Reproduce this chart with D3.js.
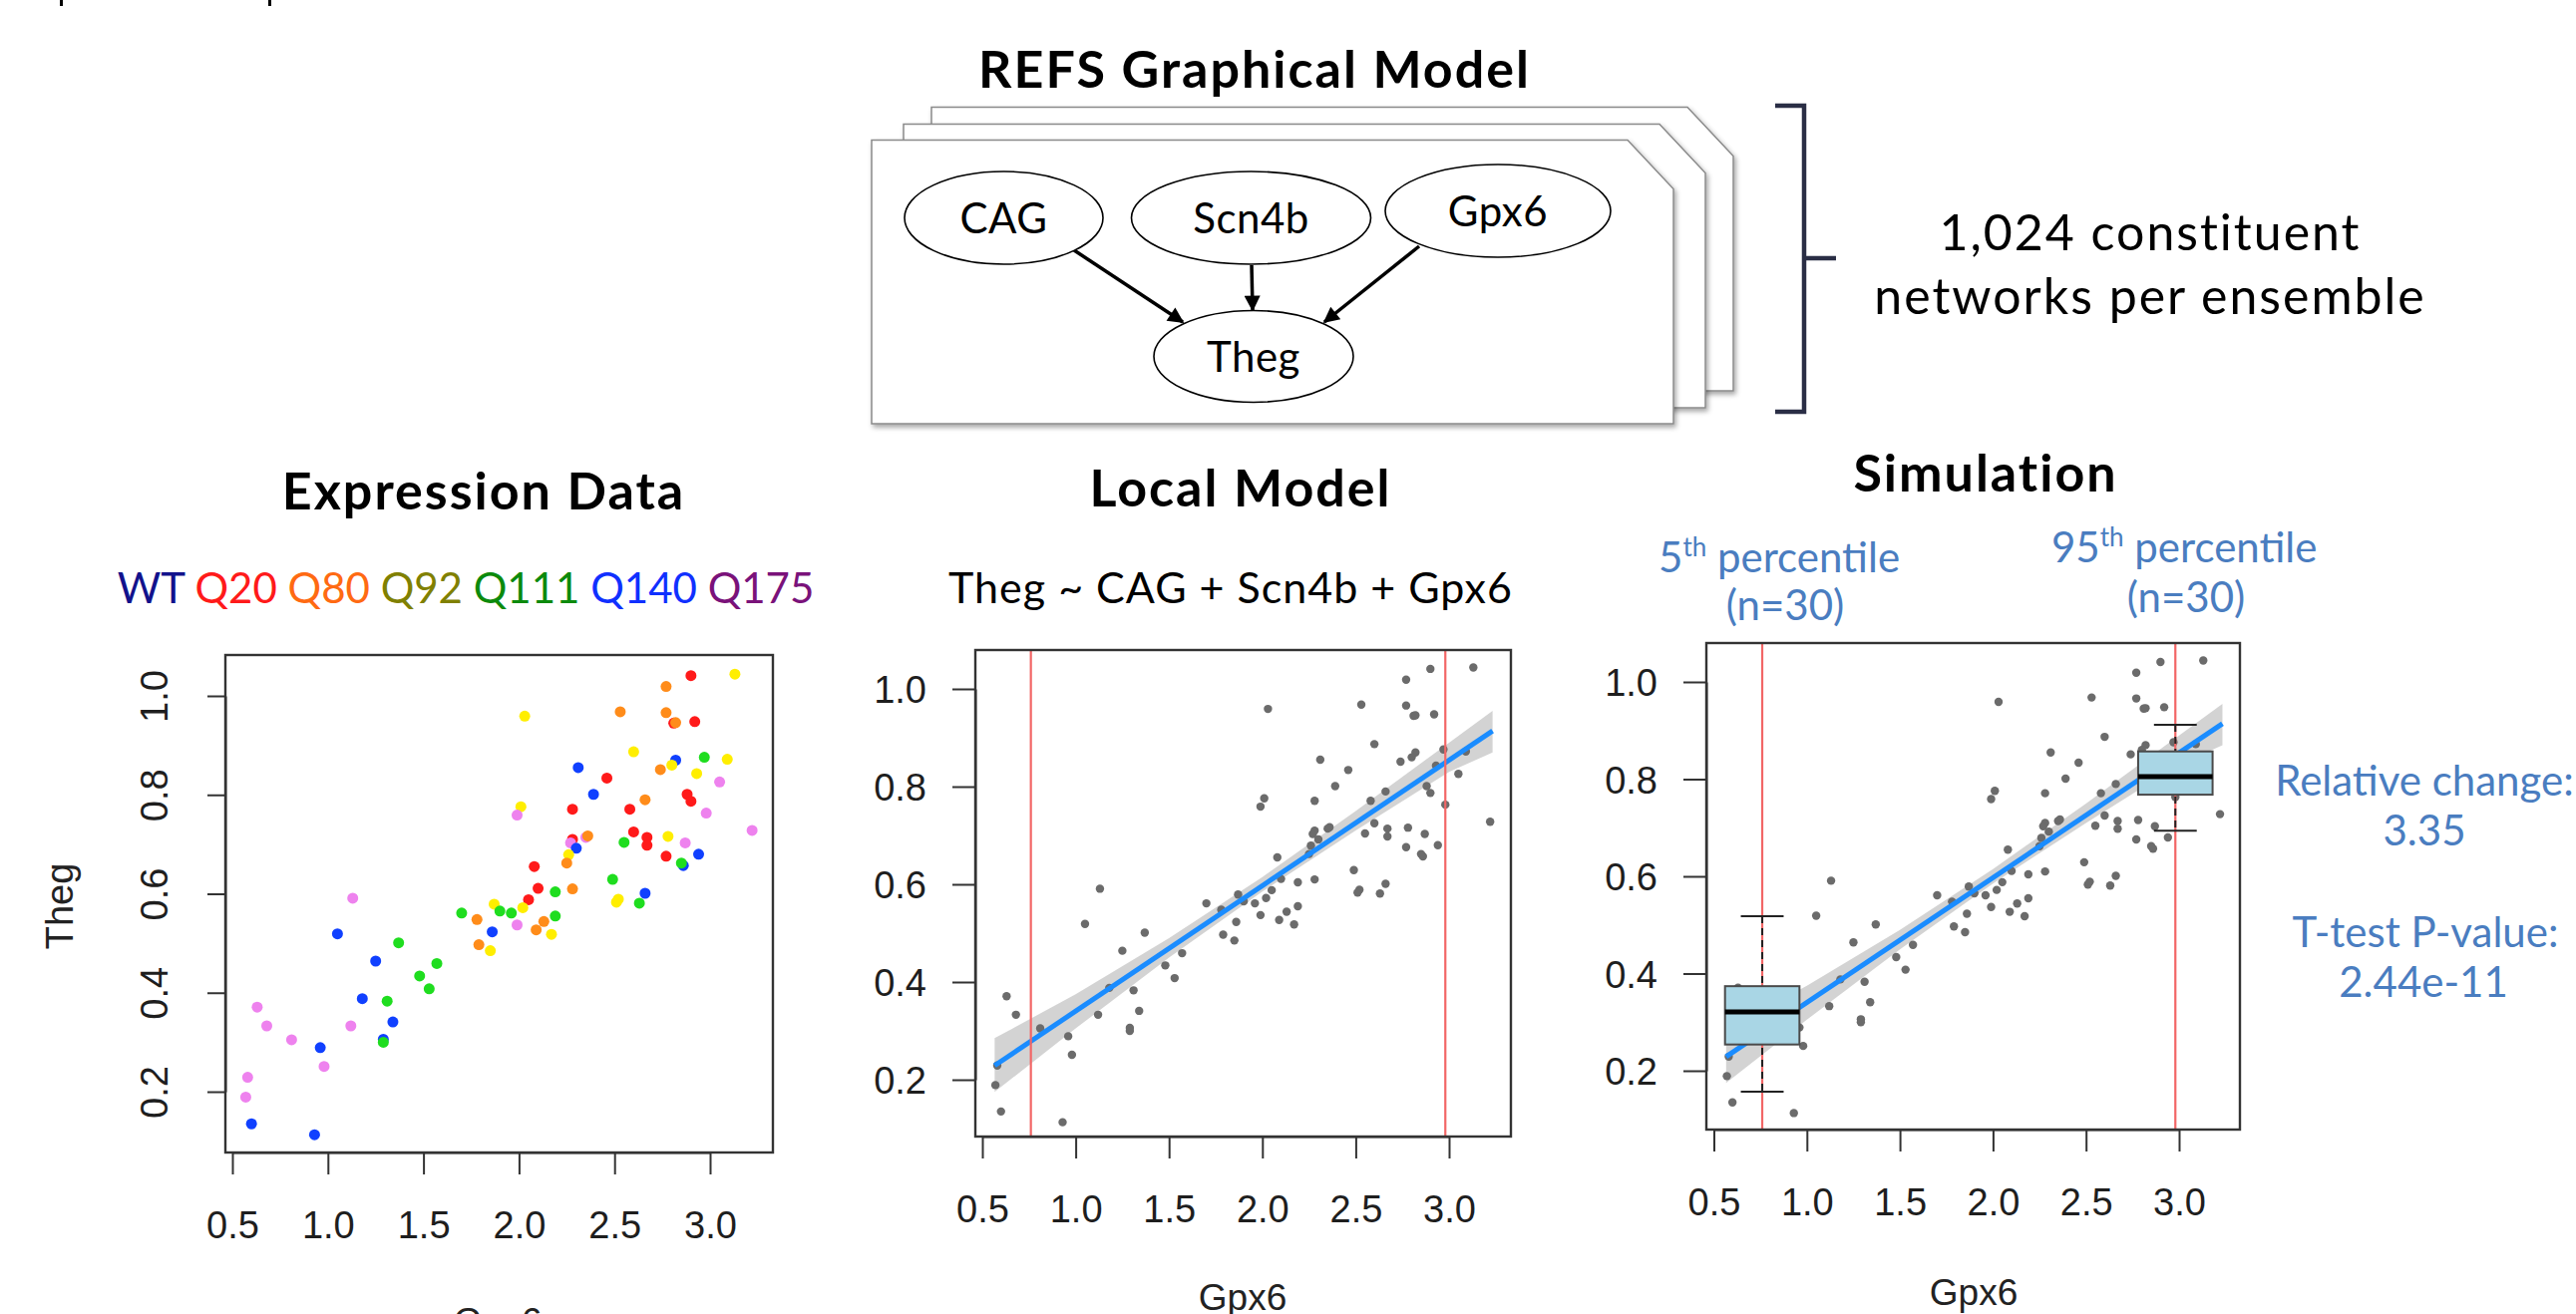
<!DOCTYPE html>
<html>
<head>
<meta charset="utf-8">
<script src="https://cdn.jsdelivr.net/npm/d3@7"></script>
<style>
  html, body { margin: 0; padding: 0; background: #fff; }
  svg { display: block; }
</style>
</head>
<body>
<div id="chart"></div>
<script>
// REFS figure: expression scatter, local model fit, simulation with percentile boxes

// ---- data ----
const genotypes    = ['WT', 'Q20', 'Q80', 'Q92', 'Q111', 'Q140', 'Q175'];
const legendColors = ['#12128c', '#ff1a1a', '#ff6a12', '#808000', '#0c8a0c', '#1030ff', '#7a127a'];
const dotColors    = ['#0a0a9a', '#ff1a1a', '#ff8c1a', '#ffee00', '#1fdd1f', '#1040ff', '#ee82ee'];

const gpx6 = [3.13, 2.90, 2.77, 2.53, 2.03, 2.77, 2.81, 2.82, 2.92, 2.60,
              2.97, 3.09, 2.82, 2.80, 2.74, 2.31, 2.93, 2.46, 3.05, 2.39,
              2.88, 2.90, 2.66, 2.28, 2.58, 2.01, 1.99, 2.98, 3.22, 2.60,
              2.67, 2.67, 2.78, 2.87, 2.55, 2.77, 2.28, 2.35, 2.27, 2.30,
              2.26, 2.25, 2.94, 2.86, 2.85, 2.08, 2.49, 2.28, 2.10, 2.19,
              2.66, 2.05, 2.02, 2.52, 2.51, 2.63, 1.87, 1.90, 1.96, 1.70,
              1.78, 2.19, 1.99, 2.13, 2.09, 2.17, 1.86, 1.79, 1.85, 1.13,
              1.05, 1.37, 1.25, 1.57, 1.48, 1.53, 1.18, 1.31, 1.34, 1.29,
              1.29, 1.12, 0.96, 0.98, 0.81, 0.68, 0.63, 0.58, 0.57, 0.60,
              0.93, 2.36];
const theg = [1.044, 1.041, 1.019, 0.968, 0.959, 0.966, 0.945, 0.946, 0.948, 0.887,
              0.876, 0.872, 0.870, 0.860, 0.851, 0.855, 0.843, 0.834, 0.826, 0.801,
              0.801, 0.787, 0.790, 0.771, 0.771, 0.776, 0.759, 0.763, 0.728, 0.725,
              0.714, 0.698, 0.716, 0.703, 0.704, 0.676, 0.710, 0.714, 0.703, 0.692,
              0.679, 0.662, 0.680, 0.657, 0.662, 0.655, 0.629, 0.610, 0.611, 0.604,
              0.601, 0.588, 0.572, 0.589, 0.583, 0.581, 0.579, 0.565, 0.561, 0.561,
              0.548, 0.555, 0.537, 0.544, 0.527, 0.518, 0.523, 0.497, 0.485, 0.591,
              0.519, 0.501, 0.464, 0.459, 0.434, 0.408, 0.388, 0.383, 0.341, 0.306,
              0.300, 0.333, 0.289, 0.251, 0.305, 0.333, 0.371, 0.229, 0.189, 0.135,
              0.113, 0.717];
const genotype = ['Q92', 'Q20', 'Q80', 'Q80', 'Q92', 'Q80', 'Q20', 'Q80', 'Q20', 'Q92',
                  'Q111', 'Q92', 'Q140', 'Q92', 'Q80', 'Q140', 'Q92', 'Q20', 'Q175', 'Q140',
                  'Q20', 'Q20', 'Q80', 'Q20', 'Q20', 'Q92', 'Q175', 'Q175', 'Q175', 'Q20',
                  'Q20', 'Q20', 'Q92', 'Q175', 'Q111', 'Q20', 'Q20', 'Q175', 'Q175', 'Q140',
                  'Q92', 'Q80', 'Q140', 'Q140', 'Q111', 'Q20', 'Q111', 'Q80', 'Q20', 'Q111',
                  'Q140', 'Q20', 'Q92', 'Q92', 'Q92', 'Q111', 'Q92', 'Q111', 'Q111', 'Q111',
                  'Q80', 'Q111', 'Q175', 'Q80', 'Q80', 'Q92', 'Q140', 'Q80', 'Q92', 'Q175',
                  'Q140', 'Q111', 'Q140', 'Q111', 'Q111', 'Q111', 'Q140', 'Q111', 'Q140', 'Q140',
                  'Q111', 'Q175', 'Q140', 'Q175', 'Q175', 'Q175', 'Q175', 'Q175', 'Q175', 'Q140',
                  'Q140', 'Q80'];

const xTicks = [0.5, 1.0, 1.5, 2.0, 2.5, 3.0];
const yTicks = [0.2, 0.4, 0.6, 0.8, 1.0];

// fitted line (ends) and its grey confidence band
const fitX = [0.566, 3.233];
const fitY = [0.229, 0.914];
const bandX    = [0.566, 1.0, 1.5, 2.0, 2.5, 3.0, 3.233];
const bandHigh = [0.285, 0.375, 0.490, 0.615, 0.750, 0.890, 0.955];
const bandLow  = [0.175, 0.305, 0.450, 0.585, 0.710, 0.830, 0.870];

// 5th / 95th percentile of Gpx6 and the simulated Theg boxes
const percentileCuts = [0.76, 2.98];
const boxLow    = [0.157, 0.694];
const boxQ1     = [0.254, 0.768];
const boxMedian = [0.321, 0.805];
const boxQ3     = [0.374, 0.857];
const boxHigh   = [0.518, 0.912];

// graph nodes
const nodeNames = ['CAG', 'Scn4b', 'Gpx6', 'Theg'];

// ---- layout ----
const W = 2583, H = 1318;
const titleFont = "Lato, 'Open Sans', sans-serif";
const axisFont  = "'Liberation Sans', Arial, sans-serif";
const blue = '#4a7dc0';

const svg = d3.select('#chart').append('svg')
  .attr('width', W)
  .attr('height', H);

const defs = svg.append('defs');
defs.append('filter').attr('id', 'shadow')
  .attr('x', '-5%').attr('y', '-5%').attr('width', '115%').attr('height', '120%')
  .append('feDropShadow')
    .attr('dx', 2).attr('dy', 3).attr('stdDeviation', 2.5)
    .attr('flood-color', '#000').attr('flood-opacity', 0.35);
defs.append('marker').attr('id', 'arrow')
  .attr('viewBox', '0 0 10 10')
  .attr('refX', 9).attr('refY', 5)
  .attr('markerWidth', 18).attr('markerHeight', 16)
  .attr('markerUnits', 'userSpaceOnUse')
  .attr('orient', 'auto')
  .append('path').attr('d', 'M0,0 L10,5 L0,10 z').attr('fill', '#000');

// stray marks at the very top (cut-off text above the figure)
svg.selectAll('.stray')
  .data([60, 269])
  .enter().append('rect')
    .attr('x', d => d).attr('y', 0)
    .attr('width', 3).attr('height', 6)
    .attr('fill', '#000');

// ---- REFS graphical model ----
svg.append('text')
  .attr('x', 1258).attr('y', 88)
  .attr('text-anchor', 'middle')
  .attr('font-family', titleFont).attr('font-weight', 700).attr('font-size', 52)
  .attr('letter-spacing', 2)
  .text('REFS Graphical Model');

const cardOffsets = [[60, -33], [32, -16], [0, 0]];
cardOffsets.forEach(([dx, dy]) => {
  const l = 874 + dx, t = 140.5 + dy, r = 1678 + dx, b = 425 + dy;
  svg.append('path')
    .attr('d', `M${l},${t} H${r - 46} L${r},${t + 49} V${b} H${l} Z`)
    .attr('fill', '#fff')
    .attr('stroke', '#8a8a8a')
    .attr('stroke-width', 1.5)
    .attr('filter', 'url(#shadow)');
});

const nodeX  = [1006.5, 1254.5, 1502, 1257];
const nodeY  = [218.5, 218.5, 211.5, 357.5];
const nodeRx = [99.5, 120, 113, 100];
const nodeRy = [46.5, 46.5, 46.5, 46];

const edges = [
  [[1077, 251], [1186, 323]],
  [[1255, 266], [1256, 311]],
  [[1423, 247], [1328, 323]]
];
svg.selectAll('.edge')
  .data(edges)
  .enter().append('line')
    .attr('class', 'edge')
    .attr('x1', d => d[0][0]).attr('y1', d => d[0][1])
    .attr('x2', d => d[1][0]).attr('y2', d => d[1][1])
    .attr('stroke', '#000').attr('stroke-width', 3.5)
    .attr('marker-end', 'url(#arrow)');

const nodes = svg.selectAll('.node')
  .data(nodeNames)
  .enter().append('g')
    .attr('class', 'node');
nodes.append('ellipse')
  .attr('cx', (d, i) => nodeX[i]).attr('cy', (d, i) => nodeY[i])
  .attr('rx', (d, i) => nodeRx[i]).attr('ry', (d, i) => nodeRy[i])
  .attr('fill', '#fff').attr('stroke', '#000').attr('stroke-width', 1.6);
nodes.append('text')
  .attr('x', (d, i) => nodeX[i]).attr('y', (d, i) => nodeY[i] + 15)
  .attr('text-anchor', 'middle')
  .attr('font-family', titleFont).attr('font-size', 42)
  .attr('letter-spacing', 0.5)
  .text(d => d);

// bracket + ensemble note
svg.append('path')
  .attr('d', 'M1780,106 H1809 V413 H1780 M1809,259 H1841')
  .attr('fill', 'none')
  .attr('stroke', '#2a2e45').attr('stroke-width', 4.5);
[['1,024 constituent', 251], ['networks per ensemble', 315]].forEach(([txt, y]) => {
  svg.append('text')
    .attr('x', 2156).attr('y', y)
    .attr('text-anchor', 'middle')
    .attr('font-family', titleFont).attr('font-size', 50)
    .attr('letter-spacing', 2)
    .text(txt);
});

// ---- panels ----
const panels = [
  { box: { l: 226, r: 775, t: 657, b: 1156 }, xr: [233, 712], yr: [1095, 698], rotY: true,
    title: 'Expression Data', tx: 485, ty: 511, xlabY: 1338, xlabX: 499 },
  { box: { l: 978, r: 1515, t: 652, b: 1140 }, xr: [985, 1453], yr: [1083, 691], rotY: false,
    title: 'Local Model', tx: 1244, ty: 508, xlabY: 1314, xlabX: 1246 },
  { box: { l: 1711, r: 2246, t: 645, b: 1133 }, xr: [1718.5, 2185], yr: [1074, 684], rotY: false,
    title: 'Simulation', tx: 1991, ty: 493, xlabY: 1309, xlabX: 1979 }
];

panels.forEach(p => {
  p.x = d3.scaleLinear().domain([0.5, 3.0]).range(p.xr);
  p.y = d3.scaleLinear().domain([0.2, 1.0]).range(p.yr);
  p.g = svg.append('g');

  p.g.append('text')
    .attr('x', p.tx).attr('y', p.ty)
    .attr('text-anchor', 'middle')
    .attr('font-family', titleFont).attr('font-weight', 700).attr('font-size', 52)
    .attr('letter-spacing', 2)
    .text(p.title);

  // axes
  const xAxis = p.g.append('g')
    .attr('transform', `translate(0,${p.box.b})`)
    .call(d3.axisBottom(p.x).tickValues(xTicks).tickFormat(d3.format('.1f'))
      .tickSize(22).tickSizeOuter(0));
  const yAxis = p.g.append('g')
    .attr('transform', `translate(${p.box.l},0)`)
    .call(d3.axisLeft(p.y).tickValues(yTicks).tickFormat(d3.format('.1f'))
      .tickSize(p.rotY ? 18 : 23).tickSizeOuter(0));

  [xAxis, yAxis].forEach(a => {
    a.attr('font-family', axisFont).attr('font-size', 38);
    a.select('.domain').attr('stroke', '#333').attr('stroke-width', 2);
    a.selectAll('.tick line').attr('stroke', '#333').attr('stroke-width', 2);
    a.selectAll('.tick text').attr('fill', '#1e1e1e');
  });
  xAxis.selectAll('.tick text').attr('y', 86).attr('dy', null);
  if (p.rotY) {
    yAxis.selectAll('.tick text')
      .attr('x', 0).attr('dy', '0.36em')
      .attr('text-anchor', 'middle')
      .attr('transform', 'translate(-72,0) rotate(-90)');
  } else {
    yAxis.selectAll('.tick text').attr('x', -49).attr('dy', '0.36em');
  }

  p.g.append('text')
    .attr('x', p.xlabX).attr('y', p.xlabY)
    .attr('text-anchor', 'middle')
    .attr('font-family', axisFont).attr('font-size', 37).attr('fill', '#222')
    .text('Gpx6');
});

// panel 1: coloured scatter + genotype legend
const p1 = panels[0];
const colorOf = d3.scaleOrdinal().domain(genotypes).range(dotColors);
p1.g.append('g')
  .selectAll('circle')
  .data(gpx6.map((v, i) => ({ x: v, y: theg[i], k: genotype[i] })))
  .enter().append('circle')
    .attr('cx', d => p1.x(d.x))
    .attr('cy', d => p1.y(d.y))
    .attr('r', 5.5)
    .attr('fill', d => colorOf(d.k));

p1.g.append('text')
  .attr('transform', 'translate(73,909) rotate(-90)')
  .attr('text-anchor', 'middle')
  .attr('font-family', axisFont).attr('font-size', 38).attr('fill', '#222')
  .text('Theg');

const legend = p1.g.append('text')
  .attr('x', 467).attr('y', 605)
  .attr('text-anchor', 'middle')
  .attr('font-family', titleFont).attr('font-size', 42);
genotypes.forEach((name, i) => {
  legend.append('tspan')
    .attr('fill', legendColors[i])
    .text((i ? ' ' : '') + name);
});

// panels 2 and 3: grey scatter, fit band, fit line, percentile cut lines
[panels[1], panels[2]].forEach(p => {
  const area = d3.area()
    .x(d => p.x(d[0]))
    .y0(d => p.y(d[1]))
    .y1(d => p.y(d[2]));
  p.g.append('path')
    .datum(bandX.map((v, i) => [v, bandLow[i], bandHigh[i]]))
    .attr('d', area)
    .attr('fill', '#c4c4c4').attr('opacity', 0.75);

  p.g.append('g')
    .selectAll('circle')
    .data(gpx6.map((v, i) => [v, theg[i]]))
    .enter().append('circle')
      .attr('cx', d => p.x(d[0]))
      .attr('cy', d => p.y(d[1]))
      .attr('r', 4.2)
      .attr('fill', '#6b6b6b');

  p.g.append('path')
    .datum(fitX.map((v, i) => [v, fitY[i]]))
    .attr('d', d3.line().x(d => p.x(d[0])).y(d => p.y(d[1])))
    .attr('fill', 'none')
    .attr('stroke', '#1a8cff').attr('stroke-width', 5);

  p.g.selectAll('.cut')
    .data(percentileCuts)
    .enter().append('line')
      .attr('x1', d => p.x(d)).attr('x2', d => p.x(d))
      .attr('y1', p.box.t).attr('y2', p.box.b)
      .attr('stroke', '#f26666').attr('stroke-width', 2.2);
});

// panel 2 formula
panels[1].g.append('text')
  .attr('x', 1234).attr('y', 605)
  .attr('text-anchor', 'middle')
  .attr('font-family', titleFont).attr('font-size', 43)
  .attr('letter-spacing', 1)
  .text('Theg ~ CAG + Scn4b + Gpx6');

// panel 3 boxplots
const p3 = panels[2];
const halfBox = 0.2, halfCap = 0.115;
const boxes = p3.g.selectAll('.bp')
  .data(percentileCuts.map((c, i) => ({
    c, lo: boxLow[i], q1: boxQ1[i], med: boxMedian[i], q3: boxQ3[i], hi: boxHigh[i]
  })))
  .enter().append('g').attr('class', 'bp');
boxes.append('line')
  .attr('x1', d => p3.x(d.c)).attr('x2', d => p3.x(d.c))
  .attr('y1', d => p3.y(d.hi)).attr('y2', d => p3.y(d.lo))
  .attr('stroke', '#222').attr('stroke-width', 2).attr('stroke-dasharray', '7,5');
boxes.selectAll('.cap')
  .data(d => [[d.c, d.lo], [d.c, d.hi]])
  .enter().append('line')
    .attr('x1', d => p3.x(d[0] - halfCap)).attr('x2', d => p3.x(d[0] + halfCap))
    .attr('y1', d => p3.y(d[1])).attr('y2', d => p3.y(d[1]))
    .attr('stroke', '#222').attr('stroke-width', 2);
boxes.append('rect')
  .attr('x', d => p3.x(d.c - halfBox))
  .attr('width', d => p3.x(d.c + halfBox) - p3.x(d.c - halfBox))
  .attr('y', d => p3.y(d.q3))
  .attr('height', d => p3.y(d.q1) - p3.y(d.q3))
  .attr('fill', '#a9d6e5').attr('stroke', '#4a4a4a').attr('stroke-width', 2);
boxes.append('line')
  .attr('x1', d => p3.x(d.c - halfBox)).attr('x2', d => p3.x(d.c + halfBox))
  .attr('y1', d => p3.y(d.med)).attr('y2', d => p3.y(d.med))
  .attr('stroke', '#000').attr('stroke-width', 5);

// plot frames on top
panels.forEach(p => {
  p.g.append('rect')
    .attr('x', p.box.l).attr('y', p.box.t)
    .attr('width', p.box.r - p.box.l).attr('height', p.box.b - p.box.t)
    .attr('fill', 'none').attr('stroke', '#333').attr('stroke-width', 2.4);
});

// percentile labels and test results
function pctLabel(x, y, num) {
  const t = p3.g.append('text')
    .attr('x', x).attr('y', y)
    .attr('font-family', titleFont).attr('font-size', 42).attr('fill', blue);
  t.append('tspan').text(num);
  t.append('tspan').attr('font-size', 26).attr('dy', -16).text('th');
  t.append('tspan').attr('dy', 16).text(' percentile');
}
pctLabel(1663, 574, '5');
pctLabel(2057, 564, '95');

const blueLines = [
  ['(n=30)', 1790, 622],
  ['(n=30)', 2192, 614],
  ['Relative change:', 2431, 798],
  ['3.35', 2431, 848],
  ['T-test P-value:', 2432, 950],
  ['2.44e-11', 2430, 1000]
];
p3.g.selectAll('.note')
  .data(blueLines)
  .enter().append('text')
    .attr('class', 'note')
    .attr('x', d => d[1]).attr('y', d => d[2])
    .attr('text-anchor', 'middle')
    .attr('font-family', titleFont).attr('font-size', 42).attr('fill', blue)
    .text(d => d[0]);
</script>
</body>
</html>
